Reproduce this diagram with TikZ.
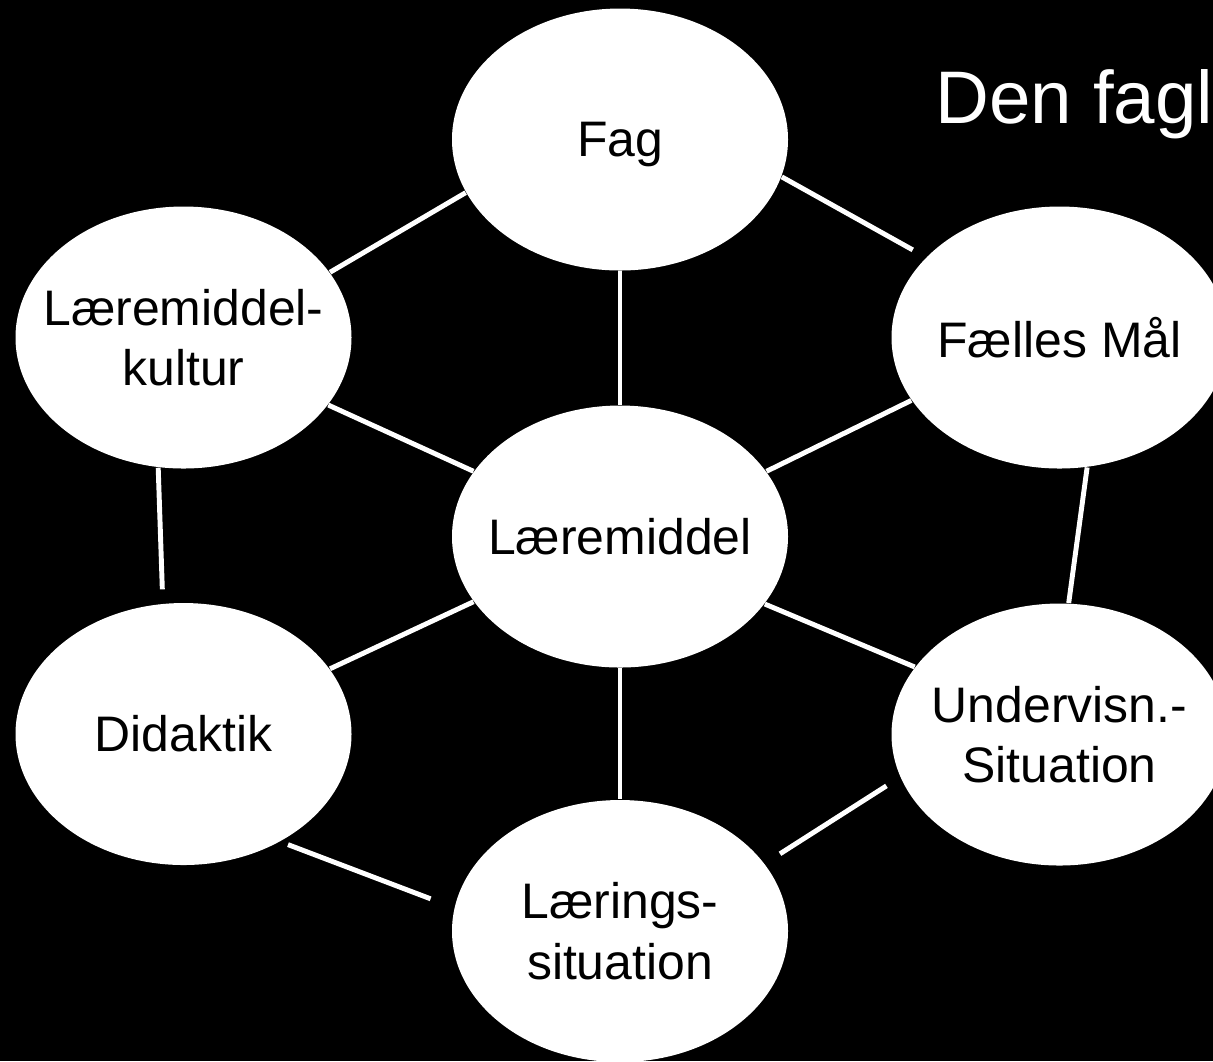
\documentclass[tikz,border=0pt]{standalone}
\usepackage{fontspec}
\setmainfont{Liberation Sans}
\usepackage{tikz}
\usetikzlibrary{shapes.geometric}

\begin{document}
\begin{tikzpicture}
\tikzset{vertex/.style = {shape=ellipse,fill=white,minimum width=3.36cm,minimum height=2.62cm,inner sep=0pt}}
\tikzset{vtext/.style = {align=center,text=black,inner sep=0pt,font=\fontsize{14.2}{17.2}\selectfont}}
\tikzset{link/.style = {draw=white,line width=1.4pt}}
\useasboundingbox (0,0) rectangle (12.13,-10.61);
\fill[black] (0,0) rectangle (12.13,-10.61);
% vertices
\node[vertex,label={[vtext,yshift=-0.05cm]center:Fag}] (fag) at (6.20,-1.395) {};
\node[vertex,label={[vtext]center:{Læremiddel-\\kultur}}] (kultur) at (1.835,-3.375) {};
\node[vertex,label={[vtext]center:Fælles Mål}] (maal) at (10.595,-3.375) {};
\node[vertex,label={[vtext]center:Læremiddel}] (middel) at (6.20,-5.365) {};
\node[vertex,label={[vtext]center:Didaktik}] (didaktik) at (1.835,-7.34) {};
\node[vertex,label={[vtext]center:{Undervisn.-\\Situation}}] (underv) at (10.595,-7.345) {};
\node[vertex,label={[vtext]center:{Lærings-\\situation}}] (laering) at (6.20,-9.31) {};
\node[text=white,inner sep=0pt,anchor=base west,font=\fontsize{21.2}{25}\selectfont] (title) at (9.35,-1.233) {Den fagl};
%edges
\draw[link] (kultur.24.7) -- (fag.199.5);
\draw[link,shorten >=0.15cm] (fag.347.4) -- (maal.149.5);
\draw[link] (fag.south) -- (middel.north);
\draw[link] (kultur.335.8) -- (middel.156.1);
\draw[link] (maal.203.6) -- (middel.24);
\draw[link,shorten >=0.14cm] (kultur.259.3) -- (didaktik.99.7);
\draw[link] (maal.282.1) -- (underv.86.2);
\draw[link] (middel.204.2) -- (didaktik.24.5);
\draw[link] (middel.335.6) -- (underv.155.6);
\draw[link] (middel.south) -- (laering.north);
\draw[link,shorten <=0.08cm,shorten >=0.25cm] (didaktik.312.7) -- (laering.172.8);
\draw[link,shorten <=0.16cm,shorten >=0.18cm] (underv.195.1) -- (laering.25.7);

\end{tikzpicture}
\end{document}
